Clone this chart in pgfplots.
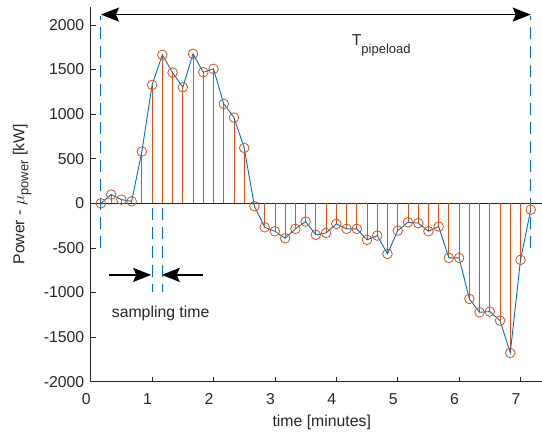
\documentclass[border=0pt]{standalone}
\usepackage{pgfplots}
\pgfplotsset{compat=1.18}
\usepackage{pgfplotstable}
\usetikzlibrary{arrows.meta}
\usepackage{fontspec}
\setmainfont{Liberation Sans}
\definecolor{mblue}{HTML}{0072BD}
\definecolor{morange}{HTML}{D95319}
\definecolor{mgray}{HTML}{262626}
\pgfplotstableread{
t p
0.16667 0
0.33333 97
0.5 41
0.66667 22
0.83333 580
1.0 1327
1.16667 1664
1.33333 1465
1.5 1300
1.66667 1675
1.83333 1469
2.0 1507
2.16667 1114
2.33333 961
2.5 621
2.66667 -33
2.83333 -269
3.0 -314
3.16667 -392
3.33333 -287
3.5 -205
3.66667 -354
3.83333 -332
4.0 -231
4.16667 -287
4.33333 -287
4.5 -410
4.66667 -362
4.83333 -567
5.0 -306
5.16667 -213
5.33333 -222
5.5 -314
5.66667 -261
5.83333 -612
6.0 -612
6.16667 -1072
6.33333 -1222
6.5 -1214
6.66667 -1315
6.83333 -1677
7.0 -634
7.16667 -71
}\powerdata
\newcommand{\tfont}{\fontsize{15.8bp}{19bp}\selectfont}
\newcommand{\sfont}{\fontsize{13bp}{15bp}\selectfont}
\tikzset{mhead/.style={-{Stealth[length=18bp,width=14bp,inset=3bp]}}}
\begin{document}
\begin{tikzpicture}
\begin{axis}[
  scale only axis, width=451.3bp, height=374.7bp,
  xmin=0, xmax=7.35, ymin=-2000, ymax=2200,
  axis x line=bottom, axis y line=left,
  axis line style={-, mgray, line width=0.6bp},
  xtick={0,1,...,7}, ytick={-2000,-1500,...,2000},
  tick align=inside, major tick length=5bp,
  tick style={mgray, line width=0.6bp},
  /pgf/number format/assume math mode=true,
  /pgf/number format/set thousands separator={},
  ticklabel style={font=\tfont, text=mgray},
  xticklabel style={yshift=-8bp, xshift=-4.5bp},
  yticklabel style={xshift=-3bp},
  xlabel={time [minutes]},
  xlabel style={at={(axis description cs:0.512,-0.1087)}, anchor=center, font=\tfont, text=mgray},
  ylabel={Power - $\mu$\raisebox{-4bp}{\sfont power} [kW]},
  ylabel style={at={(axis description cs:-0.152,0.5)}, anchor=center, font=\tfont, text=mgray},
  clip=false,
]
\addplot[mgray, line width=0.8bp, no marks] coordinates {(0,0) (7.35,0)};
\addplot[mblue, line width=1bp, dash pattern=on 12bp off 7bp, no marks] coordinates {(0.16667,-500) (0.16667,2100)};
\addplot[mblue, line width=1bp, dash pattern=on 12bp off 7bp, no marks] coordinates {(7.16667,-500) (7.16667,2100)};
\addplot[mblue, line width=1bp, dash pattern=on 12bp off 7bp, no marks] coordinates {(1.0,-50) (1.0,-1000)};
\addplot[mblue, line width=1bp, dash pattern=on 12bp off 7bp, no marks] coordinates {(1.16667,-50) (1.16667,-1000)};
\addplot[ycomb, morange, line width=0.8bp, mark=o, mark size=4.8bp, mark options={solid, morange, line width=0.8bp}] table[x=t, y=p] {\powerdata};
\addplot[mblue, line width=0.9bp, no marks] table[x=t, y=p] {\powerdata};
\draw[{Stealth[length=18bp,width=14bp,inset=3bp]}-{Stealth[length=18bp,width=14bp,inset=3bp]}, line width=1.5bp, black] (axis cs:0.16667,2115) -- (axis cs:7.16667,2115);
\draw[mhead, line width=1.5bp, black] (axis cs:0.303,-803) -- (axis cs:0.985,-803);
\draw[mhead, line width=1.5bp, black] (axis cs:1.833,-803) -- (axis cs:1.157,-803);
\node[anchor=base west, inner sep=0, text=mgray, font=\tfont] at (axis cs:4.249,1768) {T\raisebox{-7.7bp}{\sfont pipeload}};
\node[anchor=base west, inner sep=0, text=mgray, font=\tfont] at (axis cs:0.342,-1278) {sampling time};
\coordinate (SW) at (rel axis cs:0,0);
\coordinate (NE) at (rel axis cs:1,1);
\end{axis}
\pgfresetboundingbox
\path ([xshift=-90.7bp,yshift=-52.3bp]SW) rectangle ([yshift=7bp]NE);
\end{tikzpicture}
\end{document}
